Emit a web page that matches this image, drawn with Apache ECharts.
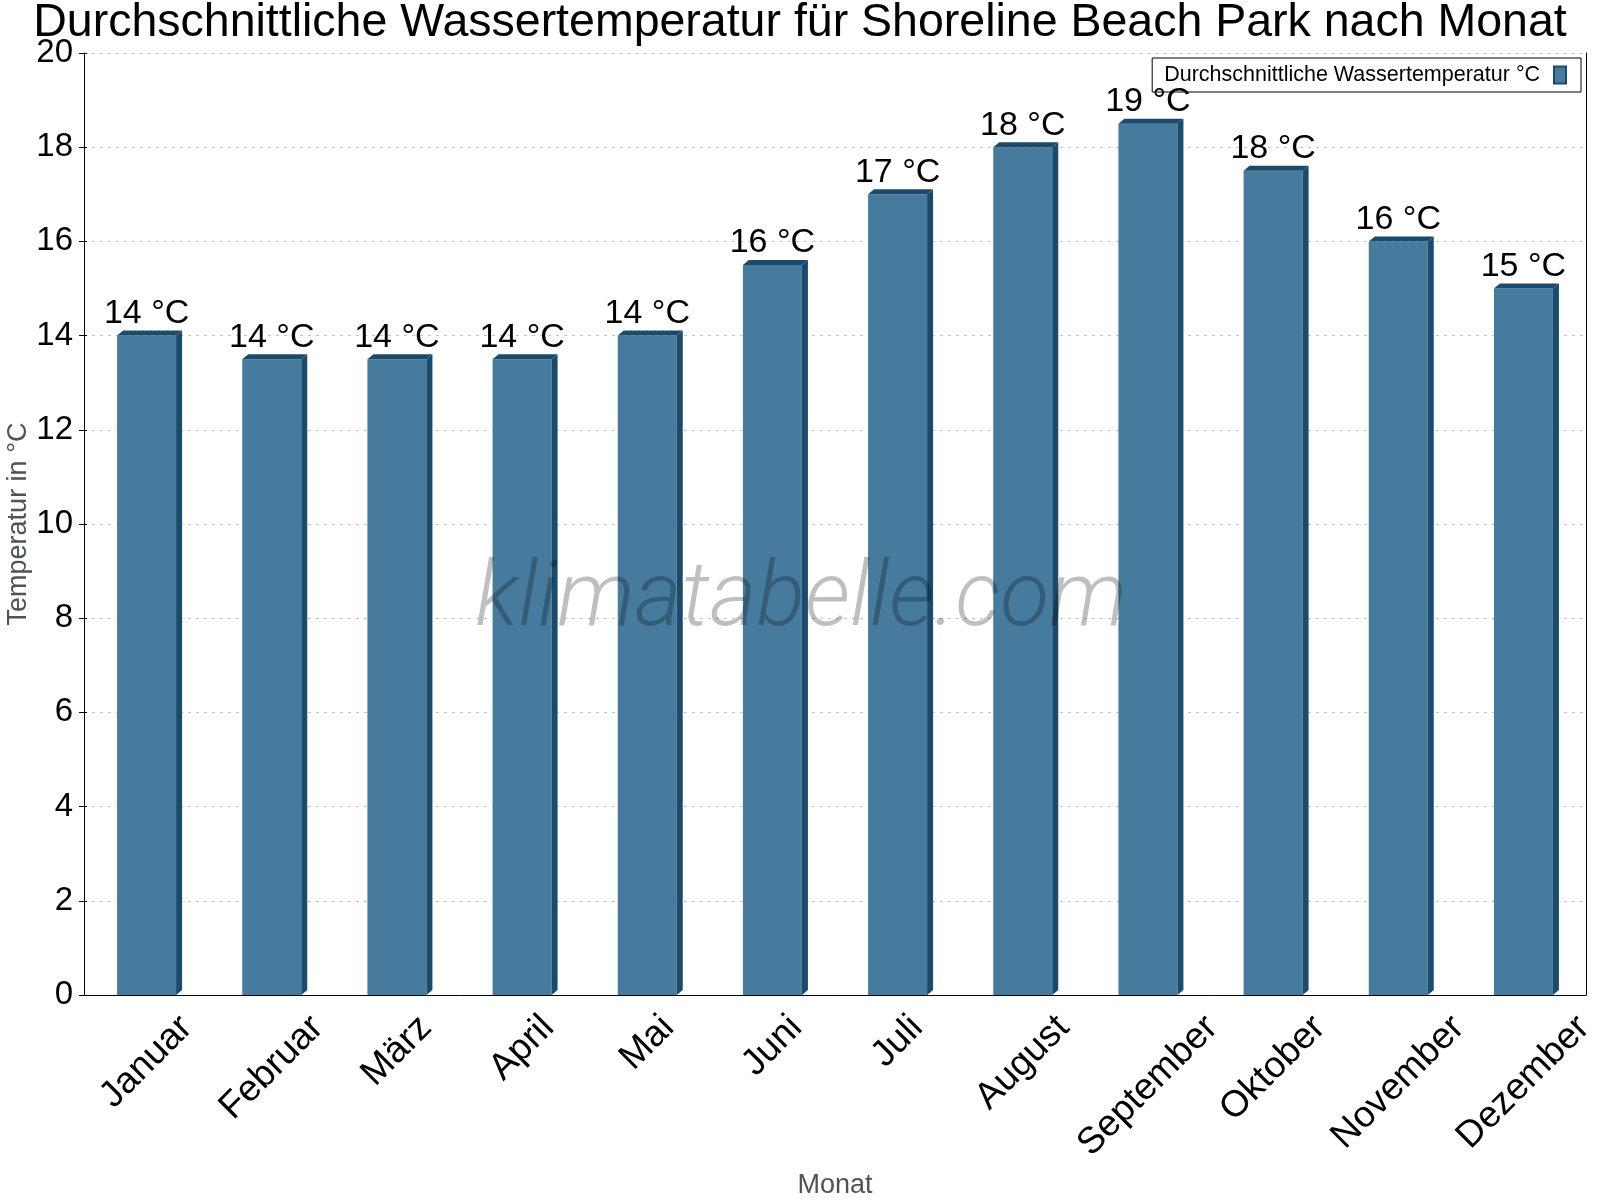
<!DOCTYPE html>
<html>
<head>
    <meta charset="utf-8">
    <title>Wassertemperatur Shoreline Beach Park</title>
    <script src="https://cdn.jsdelivr.net/npm/echarts@6/dist/echarts.min.js"></script>
    <style>
        html, body { margin: 0; padding: 0; background: #fff; }
        #chart { width: 1600px; height: 1200px; }
    </style>
</head>
<body>
    <div id="chart"></div>

    <script type="text/javascript">

    // data
    var months = ['Januar', 'Februar', 'März', 'April', 'Mai', 'Juni',
                  'Juli', 'August', 'September', 'Oktober', 'November', 'Dezember'];
    var waterTemp = [14, 13.5, 13.5, 13.5, 14, 15.5, 17, 18, 18.5, 17.5, 16, 15];
    var yTicks = [0, 2, 4, 6, 8, 10, 12, 14, 16, 18, 20];

    var seriesName = 'Durchschnittliche Wassertemperatur °C';
    var font = '"Liberation Sans", Arial, sans-serif';
    var front = '#467b9d';
    var dark = '#1b4b6c';
    var barW = 59, depthX = 6, depthY = 5;

    // rotated month labels: keep each box centred under its bar,
    // longer words hang lower (padding per word)
    var labelSize = 37;
    var ctx = document.createElement('canvas').getContext('2d');
    ctx.font = labelSize + 'px "Liberation Sans"';
    var rich = {};
    months.forEach(function (m, i) {
        var w = ctx.measureText(m).width;
        rich['m' + i] = {
            fontFamily: font,
            fontSize: labelSize,
            color: '#000',
            padding: [w * 0.5, w * 0.5, 0, 0]
        };
    });

    var chart = echarts.init(document.getElementById('chart'));

    var option = {
        animation: false,
        backgroundColor: '#fff',
        title: {
            text: 'Durchschnittliche Wassertemperatur für Shoreline Beach Park nach Monat',
            left: 'center',
            top: 0,
            padding: 0,
            textStyle: { fontFamily: font, fontSize: 46.5, fontWeight: 'normal', color: '#000' }
        },
        legend: {
            data: [{ name: seriesName, icon: 'rect',
                     itemStyle: { color: front, borderColor: dark, borderWidth: 2 } }],
            right: 19,
            top: 58,
            align: 'right',
            itemWidth: 12,
            itemHeight: 17,
            padding: [6, 14, 6, 12],
            borderColor: '#000',
            borderWidth: 1,
            textStyle: { fontFamily: font, fontSize: 21.5, color: '#000', padding: [0, 9, 0, 0] }
        },
        grid: { left: 84, right: 14, top: 53, bottom: 205, containLabel: false, outerBoundsMode: 'none' },
        xAxis: [
            {
                type: 'category',
                data: months,
                position: 'bottom',
                name: 'Monat',
                nameLocation: 'middle',
                nameGap: 177,
                nameMoveOverlap: false,
                nameTextStyle: { fontFamily: font, fontSize: 27, color: '#4d535b' },
                axisLine: { lineStyle: { color: '#000', width: 1 } },
                axisTick: { length: 5, lineStyle: { color: '#000' } },
                axisLabel: {
                    interval: 0,
                    rotate: 45,
                    margin: 27,
                    align: 'center',
                    verticalAlign: 'middle',
                    hideOverlap: false,
                    formatter: function (v, i) { return '{m' + i + '|' + v + '}'; },
                    rich: rich
                },
                splitLine: { show: false }
            },
            {
                type: 'category',
                data: months,
                position: 'bottom',
                axisLine: { show: false },
                axisTick: { inside: true, length: 4, lineStyle: { color: '#000' } },
                axisLabel: { show: false },
                splitLine: { show: false }
            }
        ],
        yAxis: [
            {
                type: 'value',
                position: 'left',
                min: 0,
                max: 20,
                interval: 2,
                name: 'Temperatur in °C',
                nameLocation: 'middle',
                nameGap: 52,
                nameMoveOverlap: false,
                nameTextStyle: { fontFamily: font, fontSize: 27, color: '#4d535b' },
                axisLine: { show: true, lineStyle: { color: '#000', width: 1 } },
                axisTick: { show: true, length: 5, lineStyle: { color: '#000' } },
                axisLabel: {
                    margin: 11,
                    fontFamily: font,
                    fontSize: 33,
                    color: '#000',
                    formatter: function (v) { return yTicks.indexOf(v) > -1 ? String(v) : ''; }
                },
                splitLine: { show: true, lineStyle: { color: '#c4c4c4', type: [3, 5], width: 1 } }
            },
            {
                type: 'value',
                position: 'left',
                min: 0,
                max: 20,
                interval: 2,
                axisLine: { show: false },
                axisTick: { show: true, inside: true, length: 3, lineStyle: { color: '#000' } },
                axisLabel: { show: false },
                splitLine: { show: false }
            },
            {
                type: 'value',
                position: 'right',
                min: 0,
                max: 20,
                interval: 2,
                axisLine: { show: true, lineStyle: { color: '#000', width: 1 } },
                axisTick: { show: false },
                axisLabel: { show: false },
                splitLine: { show: false }
            }
        ],
        graphic: [{
            type: 'text',
            x: 801,
            y: 602,
            z: 100,
            silent: true,
            style: {
                text: 'klimatabelle.com',
                font: 'italic 300 90px Roboto, "Liberation Sans", sans-serif',
                fill: 'rgba(0,0,0,0.25)',
                align: 'center',
                verticalAlign: 'middle'
            }
        }],
        series: [
            {
                name: seriesName,
                type: 'bar',
                data: waterTemp,
                barWidth: barW,
                itemStyle: { color: front },
                label: {
                    show: true,
                    position: 'top',
                    distance: 5,
                    fontFamily: font,
                    fontSize: 34,
                    color: '#000',
                    formatter: function (p) { return Math.round(p.value) + ' °C'; }
                },
                z: 2
            },
            {
                // top and side faces of the bars
                name: '3d',
                type: 'custom',
                data: waterTemp.map(function (v, i) { return [i, v]; }),
                encode: { x: 0, y: 1 },
                silent: true,
                z: 3,
                renderItem: function (params, api) {
                    var top = api.coord([api.value(0), api.value(1)]);
                    var base = api.coord([api.value(0), 0]);
                    var l = top[0] - barW / 2, r = top[0] + barW / 2, y = top[1];
                    return {
                        type: 'group',
                        children: [
                            {
                                type: 'polygon',
                                shape: { points: [[l, y], [l + depthX, y - depthY], [r + depthX, y - depthY], [r, y]] },
                                style: { fill: dark }
                            },
                            {
                                type: 'polygon',
                                shape: { points: [[r, y], [r + depthX, y - depthY], [r + depthX, base[1] - depthY], [r, base[1]]] },
                                style: { fill: dark }
                            }
                        ]
                    };
                }
            }
        ]
    };

    chart.setOption(option);

    </script>
</body>
</html>
